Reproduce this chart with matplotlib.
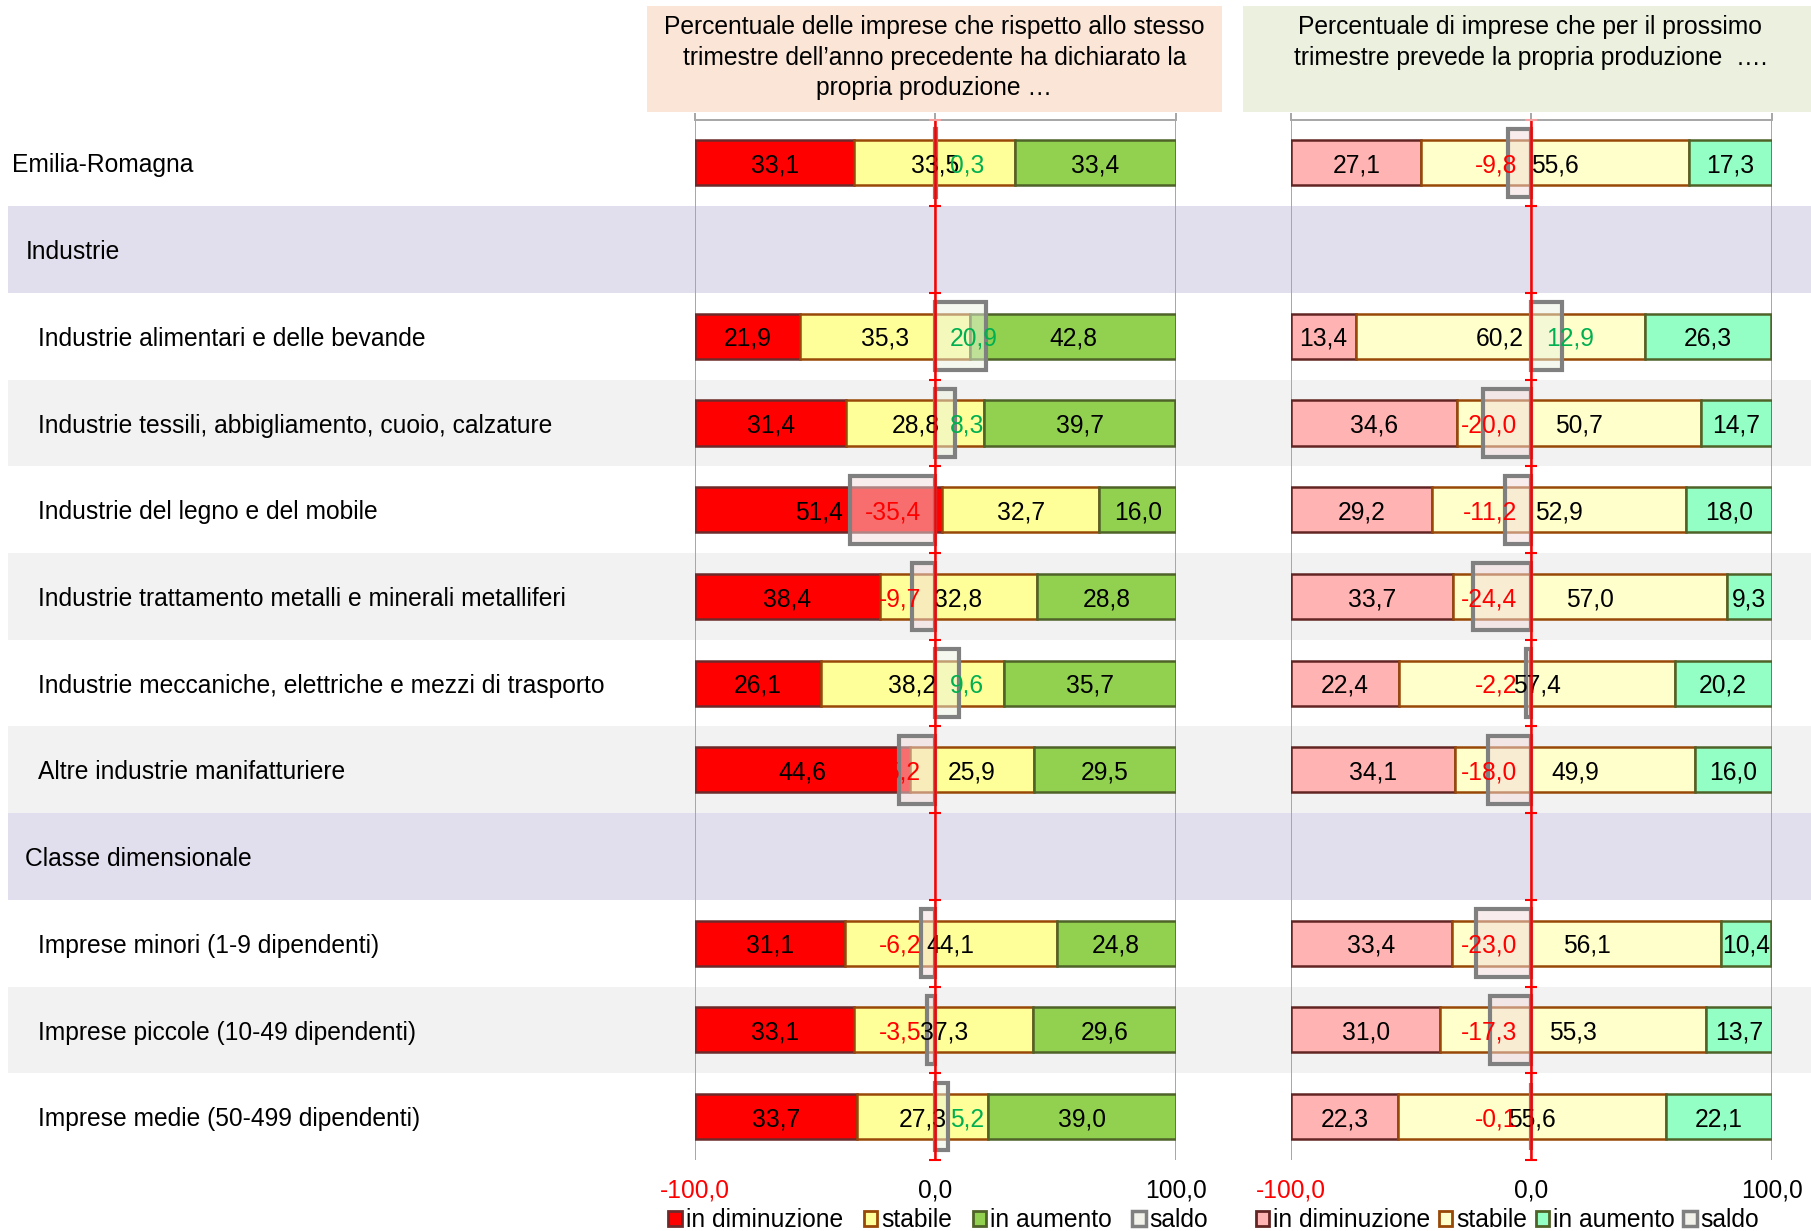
import matplotlib
matplotlib.use("Agg")
import matplotlib.pyplot as plt
from matplotlib.patches import Rectangle, Patch
from matplotlib.transforms import blended_transform_factory
import numpy as np

plt.rcParams['font.family'] = ['Liberation Sans', 'DejaVu Sans']
FS = 17.7
DY = 0.03  # small nudge so texts sit on the row centre like the original
nan = np.nan

categories = [
    "Emilia-Romagna",
    "Industrie",
    "Industrie alimentari e delle bevande",
    "Industrie tessili, abbigliamento, cuoio, calzature",
    "Industrie del legno e del mobile",
    "Industrie trattamento metalli e minerali metalliferi",
    "Industrie meccaniche, elettriche e mezzi di trasporto",
    "Altre industrie manifatturiere",
    "Classe dimensionale",
    "Imprese minori (1-9 dipendenti)",
    "Imprese piccole (10-49 dipendenti)",
    "Imprese medie (50-499 dipendenti)",
]
level = [0, 1, 2, 2, 2, 2, 2, 2, 1, 2, 2, 2]

# rispetto allo stesso trimestre dell'anno precedente
past_dim = np.array([33.1, nan, 21.9, 31.4, 51.4, 38.4, 26.1, 44.6, nan, 31.1, 33.1, 33.7])
past_stab = np.array([33.5, nan, 35.3, 28.8, 32.7, 32.8, 38.2, 25.9, nan, 44.1, 37.3, 27.3])
past_aum = np.array([33.4, nan, 42.8, 39.7, 16.0, 28.8, 35.7, 29.5, nan, 24.8, 29.6, 39.0])
past_saldo = np.array([0.3, nan, 20.9, 8.3, -35.4, -9.7, 9.6, -15.2, nan, -6.2, -3.5, 5.2])

# previsioni per il prossimo trimestre
next_dim = np.array([27.1, nan, 13.4, 34.6, 29.2, 33.7, 22.4, 34.1, nan, 33.4, 31.0, 22.3])
next_stab = np.array([55.6, nan, 60.2, 50.7, 52.9, 57.0, 57.4, 49.9, nan, 56.1, 55.3, 55.6])
next_aum = np.array([17.3, nan, 26.3, 14.7, 18.0, 9.3, 20.2, 16.0, nan, 10.4, 13.7, 22.1])
next_saldo = np.array([-9.8, nan, 12.9, -20.0, -11.2, -24.4, -2.2, -18.0, nan, -23.0, -17.3, -0.1])

series_labels = ["in diminuzione", "stabile", "in aumento", "saldo"]
title_left = ("Percentuale delle imprese che rispetto allo stesso\n"
              "trimestre dell\u2019anno precedente ha dichiarato la\n"
              "propria produzione \u2026")
title_right = ("Percentuale di imprese che per il prossimo\n"
               "trimestre prevede la propria produzione  \u2026.")


def fmt(v):
    return f"{v:.1f}".replace(".", ",")


fig = plt.figure(figsize=(18.11, 12.31), dpi=100)
ax1 = fig.add_axes([0.3839, 0.0577, 0.2653, 0.8452])
ax2 = fig.add_axes([0.7130, 0.0577, 0.2653, 0.8452])

n = len(categories)
y = np.arange(n)


def draw_panel(ax, dim, stab, aum, saldo, colors, edges, legend_x, colspace):
    ok = ~np.isnan(dim)
    left = np.full(n, -100.0)
    for vals, fc, ec in zip([dim, stab, aum], colors, edges):
        w = 2 * vals
        ax.barh(y[ok], w[ok], left=left[ok], height=0.52, color=fc,
                edgecolor=ec, linewidth=1.8, zorder=2)
        for yi in y[ok]:
            ax.text(left[yi] + w[yi] / 2, yi + DY, fmt(vals[yi]), ha="center",
                    va="center", fontsize=FS, zorder=6)
        left = left + w
    for yi in y[ok]:
        s = saldo[yi]
        fc = (0.95, 0.86, 0.86, 0.5) if s < 0 else (0.92, 0.95, 0.87, 0.5)
        ax.barh(yi, s, left=0, height=0.78, facecolor=fc, edgecolor="#808080",
                linewidth=3, zorder=3)
        if s < 0:
            ax.text(-6, yi + DY, fmt(s), ha="right", va="center", color="#FF0000",
                    fontsize=FS, zorder=6)
        else:
            ax.text(6, yi + DY, fmt(s), ha="left", va="center", color="#00B050",
                    fontsize=FS, zorder=6)

    ax.axvline(0, color="#FF0000", lw=1.8, zorder=7)
    ax.hlines(np.arange(0.5, n - 1, 1), -2.5, 2.5, color="#FF0000", lw=1.5, zorder=7)
    ax.hlines([n - 0.5], -2.5, 2.5, color="#FF0000", lw=1.5, zorder=7, clip_on=False)
    ax.hlines([-0.5], -2.5, 2.5, color="#F4A0A0", lw=1.5, zorder=7, clip_on=False)

    ax.set_xlim(-100, 100)
    ax.set_ylim(n - 0.5, -0.5)
    ax.set_facecolor("none")
    ax.set_yticks([])
    ax.set_xticks([-100, 0, 100])
    ax.set_xticklabels([fmt(v) for v in [-100, 0, 100]], fontsize=FS)
    ax.get_xticklabels()[0].set_color("#FF0000")
    ax.grid(axis="x", color="#A6A6A6", lw=1.4, zorder=1)
    ax.set_axisbelow(True)
    for side in ["left", "right", "bottom"]:
        ax.spines[side].set_visible(False)
    ax.spines["top"].set_color("#A6A6A6")
    ax.spines["top"].set_linewidth(1.4)
    ax.tick_params(axis="x", bottom=True, length=0, pad=13)
    ax.tick_params(axis="x", which="major", top=True, labeltop=False)
    ax.xaxis.set_tick_params(which="major", direction="out", color="#A6A6A6",
                             width=1.4)
    for t in ax.xaxis.get_major_ticks():
        t.tick2line.set_markersize(5)

    handles = [Patch(facecolor=c, edgecolor=e, linewidth=2) for c, e in zip(colors, edges)]
    handles.append(Patch(facecolor="#F2F2EA", edgecolor="#808080", linewidth=2.5))
    ax.legend(handles, series_labels, loc="center", bbox_to_anchor=(legend_x, -0.058),
              ncol=4, frameon=False, fontsize=FS, handlelength=0.55, handleheight=0.55,
              handletextpad=0.15, columnspacing=colspace, borderaxespad=0, borderpad=0)


draw_panel(ax1, past_dim, past_stab, past_aum, past_saldo,
           ["#FF0000", "#FFFF99", "#92D050"], ["#6E2A2A", "#984807", "#4F6228"], 0.506, 0.85)
draw_panel(ax2, next_dim, next_stab, next_aum, next_saldo,
           ["#FFB3B3", "#FFFFCC", "#93FFC4"], ["#632523", "#984807", "#4F6228"], 0.45, 0.35)

# row bands and category labels
blend = blended_transform_factory(fig.transFigure, ax1.transData)
indent_x = [0.0064, 0.014, 0.021]
k = 0
for i, name in enumerate(categories):
    if level[i] == 1:
        fig.patches.append(Rectangle((0.0045, i - 0.5), 1.0, 1.0, transform=blend,
                                     facecolor="#E1DFED", edgecolor="none", zorder=-10))
        k = 0
    else:
        if k % 2 == 1:
            fig.patches.append(Rectangle((0.0045, i - 0.5), 1.0, 1.0, transform=blend,
                                         facecolor="#F2F2F2", edgecolor="none", zorder=-10))
        k += 1
    fig.text(indent_x[level[i]], i + DY, name, transform=blend, ha="left", va="center",
             fontsize=FS)

# header boxes
fig.patches.append(Rectangle((560 / 1568, 1 - 97 / 1066), 498 / 1568, 92 / 1066,
                             transform=fig.transFigure, facecolor="#FBE5D6",
                             edgecolor="none", zorder=-5))
fig.patches.append(Rectangle((1076 / 1568, 1 - 97 / 1066), 492 / 1568, 92 / 1066,
                             transform=fig.transFigure, facecolor="#EBF1DE",
                             edgecolor="none", zorder=-5))
fig.text(0.516, 0.9875, title_left, ha="center", va="top", fontsize=FS,
         linespacing=1.33, multialignment="center")
fig.text(0.845, 0.9875, title_right, ha="center", va="top", fontsize=FS,
         linespacing=1.33, multialignment="center")

fig.savefig("out.png", dpi=100)
